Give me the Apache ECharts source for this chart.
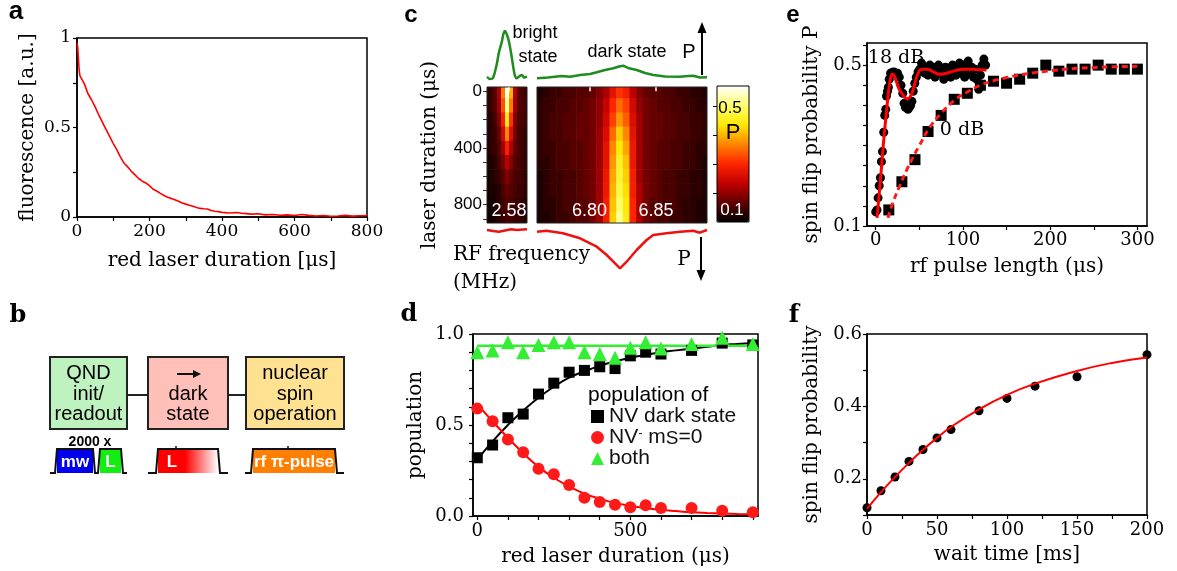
<!DOCTYPE html>
<html><head><meta charset="utf-8">
<script src="https://cdn.jsdelivr.net/npm/echarts@6/dist/echarts.min.js"></script>
<style>html,body{margin:0;padding:0;background:#fff}#c{width:1177px;height:571px}</style>
</head><body><div id="c"></div>
<script>
// ---------- panel a ----------
const aTime = [0,2,4,6,8,10,20,30,40,50,60,70,80,90,100,110,120,130,140,150,160,170,180,190,200,210,220,230,240,250,260,270,280,290,300,310,320,330,340,350,360,370,380,390,400,420,440,460,480,500,520,540,560,580,600,620,640,660,680,700,720,740,760,780,800];
const aFluor = [0.97,0.95,0.88,0.82,0.79,0.785,0.745,0.69,0.655,0.615,0.57,0.53,0.49,0.45,0.41,0.375,0.335,0.30,0.28,0.255,0.235,0.215,0.2,0.19,0.175,0.155,0.145,0.132,0.12,0.11,0.104,0.096,0.088,0.078,0.072,0.066,0.06,0.053,0.048,0.046,0.045,0.036,0.032,0.03,0.026,0.022,0.025,0.02,0.016,0.018,0.012,0.014,0.01,0.012,0.008,0.014,0.009,0.006,0.008,0.004,0.006,0.009,0.005,0.007,0.008];
const aXTicks = [0,100,200,300,400,500,600,700,800];
const aXLabels = [0,200,400,600,800];
const aYTicks = [0,0.25,0.5,0.75,1];
const aYLabels = [0,0.5,1];

// ---------- panel c ----------
const cTimes = [0,100,200,300,400,500,600,700,800,900];
const cTimeTicks = [0,100,200,300,400,500,600,700,800,900];
const cTimeLabels = [0,400,800];
const cBrightTicks = [2.58];
const cDarkTicks = [6.80,6.85];
const cFreqBright = [2.5745,2.5755,2.5765,2.5775,2.5785,2.5795,2.5805,2.5815,2.5825,2.5835,2.5845];
const cFreqDark = [6.7625,6.7675,6.7725,6.7775,6.7825,6.7875,6.7925,6.7975,6.8025,6.8075,6.8125,6.8175,6.8225,6.8275,6.8325,6.8375,6.8425,6.8475,6.8525,6.8575,6.8625,6.8675,6.8725,6.8775,6.8825,6.8875];
const cBright = [
 [0.13,0.14,0.16,0.22,0.36,0.56,0.40,0.22,0.16,0.15,0.14],
 [0.13,0.14,0.16,0.21,0.33,0.52,0.36,0.21,0.16,0.15,0.14],
 [0.13,0.13,0.15,0.19,0.29,0.45,0.31,0.19,0.15,0.15,0.14],
 [0.12,0.13,0.14,0.17,0.25,0.37,0.26,0.18,0.15,0.14,0.13],
 [0.12,0.13,0.14,0.16,0.21,0.29,0.22,0.17,0.15,0.14,0.13],
 [0.12,0.12,0.13,0.15,0.18,0.23,0.19,0.16,0.15,0.14,0.13],
 [0.11,0.12,0.13,0.14,0.16,0.19,0.17,0.15,0.15,0.14,0.13],
 [0.11,0.12,0.12,0.13,0.15,0.17,0.16,0.15,0.14,0.14,0.13],
 [0.11,0.11,0.12,0.13,0.14,0.16,0.15,0.14,0.14,0.13,0.12],
 [0.11,0.11,0.12,0.13,0.14,0.15,0.15,0.14,0.14,0.13,0.12]
];
const cDark = [
 [0.12,0.13,0.14,0.14,0.15,0.15,0.16,0.16,0.17,0.19,0.22,0.27,0.31,0.29,0.23,0.19,0.17,0.16,0.16,0.15,0.15,0.14,0.14,0.13,0.13,0.12],
 [0.13,0.14,0.14,0.15,0.15,0.16,0.16,0.17,0.18,0.20,0.24,0.30,0.35,0.32,0.25,0.20,0.18,0.17,0.16,0.16,0.15,0.15,0.14,0.14,0.13,0.13],
 [0.13,0.14,0.15,0.15,0.16,0.16,0.17,0.17,0.18,0.20,0.25,0.32,0.38,0.34,0.26,0.21,0.18,0.17,0.17,0.16,0.16,0.15,0.15,0.14,0.14,0.13],
 [0.13,0.14,0.15,0.15,0.16,0.16,0.17,0.17,0.18,0.21,0.26,0.35,0.42,0.37,0.27,0.21,0.18,0.17,0.17,0.16,0.16,0.15,0.15,0.14,0.14,0.13],
 [0.13,0.14,0.14,0.15,0.15,0.16,0.16,0.17,0.18,0.21,0.27,0.37,0.44,0.39,0.28,0.21,0.18,0.17,0.16,0.16,0.15,0.15,0.14,0.14,0.13,0.13],
 [0.13,0.13,0.14,0.15,0.15,0.16,0.16,0.17,0.18,0.21,0.27,0.38,0.46,0.41,0.28,0.21,0.18,0.17,0.16,0.16,0.15,0.15,0.14,0.14,0.13,0.12],
 [0.12,0.13,0.14,0.14,0.15,0.15,0.16,0.17,0.18,0.21,0.28,0.39,0.47,0.42,0.29,0.21,0.18,0.17,0.16,0.15,0.15,0.14,0.14,0.13,0.13,0.12],
 [0.12,0.13,0.14,0.14,0.15,0.15,0.16,0.17,0.18,0.21,0.28,0.40,0.48,0.43,0.29,0.22,0.18,0.17,0.16,0.15,0.15,0.14,0.14,0.13,0.13,0.12],
 [0.12,0.13,0.13,0.14,0.15,0.15,0.16,0.16,0.18,0.21,0.29,0.41,0.50,0.44,0.30,0.22,0.18,0.16,0.16,0.15,0.15,0.14,0.13,0.13,0.12,0.12],
 [0.12,0.12,0.13,0.14,0.14,0.15,0.16,0.16,0.18,0.21,0.29,0.42,0.52,0.45,0.30,0.22,0.18,0.16,0.15,0.15,0.14,0.14,0.13,0.13,0.12,0.12]
];
const cGreenBrightF = [2.5745,2.57525,2.576,2.5769,2.5775,2.5782,2.5786,2.5790,2.5795,2.5800,2.5806,2.5811,2.5815,2.5819,2.5825,2.5832,2.5838,2.5845];
const cGreenBrightP = [0.083,0.06,0.07,0.20,0.33,0.433,0.51,0.54,0.50,0.433,0.30,0.17,0.09,0.067,0.085,0.10,0.075,0.083];
const cGreenDarkF = [6.7605,6.7688,6.7791,6.7853,6.7929,6.8004,6.8054,6.8117,6.8179,6.8222,6.8254,6.8289,6.8355,6.8417,6.848,6.8568,6.868,6.8741,6.878,6.883,6.8883];
const cGreenDarkP = [0.067,0.075,0.09,0.083,0.10,0.11,0.127,0.15,0.167,0.185,0.193,0.17,0.15,0.12,0.10,0.085,0.083,0.09,0.093,0.075,0.077];
const cRedBrightF = [2.5745,2.576,2.5775,2.579,2.5805,2.582,2.5835,2.5845];
const cRedBrightP = [0.04,0.05,0.057,0.045,0.033,0.04,0.035,0.033];
const cRedDarkF = [6.7605,6.7676,6.78,6.7929,6.8054,6.8129,6.8179,6.8229,6.8279,6.8354,6.8429,6.8479,6.8579,6.868,6.878,6.8829,6.8883];
const cRedDarkP = [0.057,0.047,0.073,0.123,0.207,0.29,0.357,0.423,0.357,0.24,0.14,0.09,0.073,0.057,0.047,0.067,0.04];
const cBarTicks = [0.2,0.3,0.4,0.5];

// ---------- panel d ----------
const dTime = [0,50,100,150,200,250,300,350,400,450,500,550,600,700,800,900];
const dDark = [0.32,0.39,0.54,0.56,0.67,0.73,0.79,0.80,0.82,0.81,0.88,0.90,0.89,0.91,0.95,0.94];
const dMs0 = [0.59,0.52,0.42,0.35,0.26,0.23,0.17,0.10,0.077,0.062,0.048,0.059,0.044,0.044,0.029,0.02];
const dBoth = [0.90,0.91,0.955,0.90,0.94,0.955,0.955,0.90,0.89,0.87,0.925,0.955,0.92,0.945,0.98,0.945];
const dFitT = [0,50,100,150,200,250,300,350,400,450,500,550,600,650,700,750,800,850,900];
const dFitDark = [0.31,0.41,0.50,0.58,0.65,0.71,0.76,0.795,0.825,0.85,0.87,0.885,0.90,0.91,0.92,0.93,0.94,0.945,0.95];
const dFitMs0 = [0.615,0.52,0.43,0.345,0.27,0.21,0.163,0.123,0.095,0.072,0.056,0.044,0.034,0.027,0.021,0.017,0.014,0.011,0.009];
const dFitBothT = [0,900];
const dFitBoth = [0.935,0.935];
const dXTicks = [0,100,200,300,400,500,600,700,800,900];
const dXLabels = [0,500];
const dYTicks = [0,0.1,0.2,0.3,0.4,0.5,0.6,0.7,0.8,0.9,1];
const dYLabels = [0,0.5,1];

// ---------- panel e ----------
const eT18 = [0,1.5,2.7,4,5.4,6.5,7.7,9.2,10.3,11.5,12.3,13.5,14.5,15.5,17,19,21,23,25,27,29,31,32.5,34,35.5,37,38.5,40,41.5,43,44.8,46.5,48.5,50.5,52.5,54,56,58,60,62,64,66,68,70,72,74,76,78,80,82,84,86,88,90,92,94,96,98,100,102,104,106,108,110,112,114,116,118,120,122,124,126];
const eP18 = [0.135,0.14,0.17,0.2,0.22,0.26,0.285,0.333,0.375,0.39,0.423,0.435,0.445,0.465,0.48,0.482,0.483,0.478,0.48,0.47,0.45,0.43,0.405,0.395,0.398,0.39,0.395,0.40,0.41,0.435,0.455,0.47,0.483,0.49,0.505,0.495,0.48,0.49,0.475,0.50,0.48,0.495,0.47,0.485,0.50,0.48,0.49,0.465,0.495,0.48,0.49,0.47,0.50,0.485,0.475,0.495,0.505,0.48,0.50,0.47,0.49,0.51,0.48,0.495,0.47,0.49,0.465,0.44,0.475,0.50,0.515,0.50];
const eFit18T = [1.5,4,6.5,9,12.3,15,17,19,21,23.7,27,31.4,34,37,40,42.8,45.5,48.6,51,54,58,62,67,73.5,80,89,97,104,115,127];
const eFit18P = [0.12,0.18,0.243,0.31,0.384,0.44,0.467,0.477,0.474,0.459,0.44,0.425,0.418,0.417,0.423,0.438,0.46,0.48,0.488,0.49,0.49,0.488,0.482,0.477,0.479,0.485,0.489,0.49,0.489,0.488];
const eT0 = [15,30,45,60,75,90,105,120,135,150,165,180,195,210,225,240,255,270,285,300];
const eP0 = [0.14,0.21,0.265,0.335,0.375,0.415,0.43,0.45,0.46,0.455,0.465,0.48,0.50,0.485,0.49,0.49,0.50,0.49,0.49,0.49];
const eFit0T = [14,20,27,35,42.5,50,62,75,90,104,120,135,150,175,200,225,250,275,300];
const eFit0P = [0.12,0.16,0.197,0.237,0.27,0.3,0.345,0.38,0.412,0.432,0.45,0.461,0.469,0.479,0.486,0.491,0.494,0.496,0.497];
const eXTicks = [0,50,100,150,200,250,300];
const eXLabels = [0,100,200,300];
const eYTicks = [0.1,0.15,0.2,0.25,0.3,0.35,0.4,0.45,0.5,0.55];
const eYLabels = [0.1,0.5];

// ---------- panel f ----------
const fTime = [0,10,20,30,40,50,60,80,100,120,150,200];
const fP = [0.12,0.167,0.205,0.248,0.281,0.313,0.336,0.388,0.422,0.456,0.482,0.543];
const fFitT = [0,10,20,30,40,50,60,80,100,120,150,175,200];
const fFitP = [0.117,0.163,0.205,0.244,0.28,0.313,0.343,0.392,0.432,0.463,0.498,0.52,0.535];
const fXTicks = [0,25,50,75,100,125,150,175,200];
const fXLabels = [0,50,100,150,200];
const fYTicks = [0.1,0.2,0.3,0.4,0.5,0.6];
const fYLabels = [0.2,0.4,0.6];

// ---------- build ----------
const SERIF = 'DejaVu Serif', SANS = 'Liberation Sans';
const zip = (x, y) => x.map((v, i) => [v, y[i]]);
function cells(freqs, times, rows) {
  const out = [];
  rows.forEach((row, r) => row.forEach((v, c) => out.push([freqs[c], times[r], v])));
  return out;
}
function cellRenderer(freqs, times) {
  const hx = (freqs[1] - freqs[0]) / 2, hy = (times[1] - times[0]) / 2;
  return function (params, api) {
    const f = api.value(0), t = api.value(1);
    const p0 = api.coord([f - hx, t - hy]), p1 = api.coord([f + hx, t + hy]);
    const cs = params.coordSys;
    const r = echarts.graphic.clipRectByRect(
      {x: Math.min(p0[0], p1[0]), y: Math.min(p0[1], p1[1]), width: Math.abs(p1[0] - p0[0]) + 0.6, height: Math.abs(p1[1] - p0[1]) + 0.6},
      {x: cs.x, y: cs.y, width: cs.width, height: cs.height});
    return r && {type: 'rect', shape: r, style: {fill: api.visual('color')}};
  };
}
function boxAxis(gi, o) {
  return {
    type: 'value', gridIndex: gi, min: o.min, max: o.max, position: o.pos,
    axisLine: {show: true, onZero: false, lineStyle: {color: '#000', width: 1.5}},
    axisTick: {show: true, length: 4, lineStyle: {color: '#000', width: 1.2}, customValues: o.ticks},
    axisLabel: {customValues: o.labels, margin: o.margin, fontFamily: SERIF, fontSize: o.fs || 18, color: '#000', formatter: o.fmt},
    splitLine: {show: false},
    name: o.name, nameLocation: 'middle', nameGap: o.gap,
    nameTextStyle: {fontFamily: SERIF, fontSize: 20, color: '#000'}
  };
}
const hidden = (gi, min, max, inverse) => ({type: 'value', gridIndex: gi, min, max, inverse: !!inverse, show: false});
const boxGrid = (l, t, w, h) => ({left: l, top: t, width: w, height: h, show: true, borderColor: '#000', borderWidth: 1.5});

const hot = ['#000000','#610000','#c20000','#ff2500','#ff8500','#ffe700','#ffff6d','#ffffff'];

const grids = [
  boxGrid(77, 38, 290, 179),
  {left: 487, top: 87, width: 40, height: 136, show: true, borderColor: '#222', borderWidth: 1, z: 3},
  {left: 537, top: 87, width: 170, height: 136, show: true, borderColor: '#222', borderWidth: 1, z: 3},
  {left: 487, top: 25, width: 40, height: 60},
  {left: 537, top: 25, width: 170, height: 60},
  {left: 487, top: 226, width: 40, height: 50},
  {left: 537, top: 226, width: 170, height: 50},
  {left: 717, top: 86, width: 32, height: 136, show: true, borderColor: '#000', borderWidth: 1, z: 10},
  boxGrid(473, 334, 285, 182),
  boxGrid(867, 43, 280, 183),
  boxGrid(867, 334, 280, 181)
];
const heatX = (gi, min, max, ticks) => ({
  type: 'value', gridIndex: gi, min, max, position: 'bottom', z: 6,
  axisLine: {show: false},
  axisTick: {show: true, inside: true, length: 4, customValues: ticks, lineStyle: {color: '#fff', width: 1.5}},
  axisLabel: {inside: true, customValues: ticks, formatter: v => v.toFixed(2), color: '#fff', fontFamily: SANS, fontSize: 18, margin: 3},
  splitLine: {show: false}
});
const xAxes = [
  boxAxis(0, {min: 0, max: 800, pos: 'bottom', ticks: aXTicks, labels: aXLabels, margin: 6, fs: 17, name: 'red laser duration [μs]', gap: 34}),
  heatX(1, 2.5745, 2.5845, cBrightTicks),
  heatX(2, 6.7605, 6.8883, cDarkTicks),
  hidden(3, 2.5745, 2.5845), hidden(4, 6.7605, 6.8883),
  hidden(5, 2.5745, 2.5845), hidden(6, 6.7605, 6.8883),
  hidden(7, 0, 1),
  boxAxis(8, {min: -14, max: 917, pos: 'bottom', ticks: dXTicks, labels: dXLabels, margin: 6, name: 'red laser duration (μs)', gap: 31}),
  boxAxis(9, {min: -10, max: 311, pos: 'bottom', ticks: eXTicks, labels: eXLabels, margin: 5, name: 'rf pulse length (μs)', gap: 31}),
  boxAxis(10, {min: 0, max: 200, pos: 'bottom', ticks: fXTicks, labels: fXLabels, margin: 6, name: 'wait time [ms]', gap: 30})
];
const yAxes = [
  boxAxis(0, {min: 0, max: 1, pos: 'left', ticks: aYTicks, labels: aYLabels, margin: 6, fs: 17, name: 'fluorescence [a.u.]', gap: 39}),
  {type: 'value', gridIndex: 1, min: -30, max: 930, inverse: true, position: 'left',
   axisLine: {show: false},
   axisTick: {show: true, length: 4, customValues: cTimeTicks, lineStyle: {color: '#333'}},
   axisLabel: {customValues: cTimeLabels, fontFamily: SANS, fontSize: 17, color: '#000', margin: 5},
   splitLine: {show: false},
   name: 'laser duration (μs)', nameLocation: 'middle', nameGap: 47,
   nameTextStyle: {fontFamily: SERIF, fontSize: 20, color: '#000'}},
  hidden(2, -30, 930, true),
  hidden(3, 0, 0.6), hidden(4, 0, 0.6),
  hidden(5, 0, 0.5, true), hidden(6, 0, 0.5, true),
  {type: 'value', gridIndex: 7, min: 0.1, max: 0.57, position: 'right', z: 12,
   axisLine: {show: false}, axisLabel: {show: false}, splitLine: {show: false},
   axisTick: {show: true, inside: true, length: 4, customValues: cBarTicks, lineStyle: {color: '#000'}}},
  boxAxis(8, {min: 0, max: 1, pos: 'left', ticks: dYTicks, labels: dYLabels, margin: 9, fmt: v => v.toFixed(1), name: 'population', gap: 47}),
  boxAxis(9, {min: 0.1, max: 0.555, pos: 'left', ticks: eYTicks, labels: eYLabels, margin: 5, name: 'spin flip probability P', gap: 45}),
  boxAxis(10, {min: 0.1, max: 0.6, pos: 'left', ticks: fYTicks, labels: fYLabels, margin: 5, name: 'spin flip probability', gap: 45})
];

const line = (gi, data, color, width, extra) => Object.assign({
  type: 'line', xAxisIndex: gi, yAxisIndex: gi, data, showSymbol: false, symbol: 'none',
  lineStyle: {color, width}, silent: true, z: 3
}, extra || {});
const scat = (gi, name, data, symbol, size, color) => ({
  type: 'scatter', name, xAxisIndex: gi, yAxisIndex: gi, data, symbol, symbolSize: size,
  itemStyle: {color, opacity: 1}, silent: true, z: 4
});

const series = [
  line(0, zip(aTime, aFluor), '#ff0000', 1.6),
  {type: 'custom', xAxisIndex: 1, yAxisIndex: 1, data: cells(cFreqBright, cTimes, cBright), renderItem: cellRenderer(cFreqBright, cTimes), encode: {x: 0, y: 1}, silent: true, z: 1},
  {type: 'custom', xAxisIndex: 2, yAxisIndex: 2, data: cells(cFreqDark, cTimes, cDark), renderItem: cellRenderer(cFreqDark, cTimes), encode: {x: 0, y: 1}, silent: true, z: 1},
  line(3, zip(cGreenBrightF, cGreenBrightP), '#1e8c1e', 2.5, {smooth: 0.3}),
  line(4, zip(cGreenDarkF, cGreenDarkP), '#1e8c1e', 2.5),
  line(5, zip(cRedBrightF, cRedBrightP), '#ee1111', 2.5),
  line(6, zip(cRedDarkF, cRedDarkP), '#ee1111', 2.5),
  line(8, zip(dFitT, dFitDark), '#000', 2, {smooth: true}),
  line(8, zip(dFitT, dFitMs0), '#ff0000', 2, {smooth: true}),
  line(8, zip(dFitBothT, dFitBoth), '#33ee33', 2.5),
  scat(8, 'NV dark state', zip(dTime, dDark), 'rect', 11, '#000'),
  scat(8, 'NV⁻ mS=0', zip(dTime, dMs0), 'circle', 12, '#ff1a1a'),
  scat(8, 'both', zip(dTime, dBoth), 'triangle', 14, '#33ee33'),
  scat(9, '18 dB', zip(eT18, eP18), 'circle', 9, '#000'),
  scat(9, '0 dB', zip(eT0, eP0), 'rect', 11, '#000'),
  line(9, zip(eFit18T, eFit18P), '#ff0000', 3, {smooth: 0.4, z: 5}),
  line(9, zip(eFit0T, eFit0P), '#ff1a1a', 3, {smooth: true, z: 5, lineStyle: {color: '#ff1a1a', width: 3, type: [6, 4]}}),
  scat(10, 'f', zip(fTime, fP), 'circle', 9, '#000'),
  line(10, zip(fFitT, fFitP), '#ff0000', 2, {smooth: true, z: 5})
];

const T = (text, x, y, font, o) => {
  o = o || {};
  return {type: 'text', x, y, rotation: o.rot || 0, silent: true, z: 100,
    style: {text, font, fill: o.fill || '#000', align: o.align || 'center', verticalAlign: o.va || 'middle', lineHeight: o.lh}};
};
const R = (x, y, w, h, fill, stroke, lw) => ({type: 'rect', silent: true, z: 90, shape: {x, y, width: w, height: h}, style: {fill, stroke: stroke || null, lineWidth: lw || 0}});
const L = (pts, stroke, lw) => ({type: 'polyline', silent: true, z: 95, shape: {points: pts}, style: {stroke, lineWidth: lw, fill: null}});
const P = (pts, fill) => ({type: 'polygon', silent: true, z: 95, shape: {points: pts}, style: {fill}});

const redGrad = new echarts.graphic.LinearGradient(0, 0, 1, 0, [
  {offset: 0, color: '#ff0000'}, {offset: 0.45, color: '#ff0000'}, {offset: 1, color: '#ffffff'}]);
const F20 = '20px ' + SANS;
const graphics = [
  // panel letters
  T('a', 16, 12, 'bold 26px ' + SANS),
  T('b', 18, 316, 'bold 24px ' + SERIF),
  T('c', 411, 15, 'bold 24px ' + SANS),
  T('d', 409, 315, 'bold 24px ' + SERIF),
  T('e', 793, 15, 'bold 24px ' + SANS),
  T('f', 794, 316, 'bold 24px ' + SERIF),
  // panel b boxes
  R(50, 357, 77, 72, '#bef2be', '#222', 2),
  R(148, 357, 80, 72, '#ffc0ba', '#222', 2),
  R(246, 357, 98, 72, '#ffe291', '#222', 2),
  L([[127, 395], [148, 395]], '#222', 2),
  L([[228, 395], [246, 395]], '#222', 2),
  T('QND', 88.5, 373, F20), T('init/', 88.5, 394, F20), T('readout', 88.5, 414, F20),
  L([[177, 374], [195, 374]], '#111', 2), P([[201, 374], [193, 370], [193, 378]], '#111'),
  T('dark', 188, 394, F20), T('state', 188, 414, F20),
  T('nuclear', 295, 373, F20), T('spin', 295, 394, F20), T('operation', 295, 414, F20),
  // pulses
  T('2000 x', 90, 442, 'bold 14px ' + SANS),
  R(57, 449, 36, 24, '#0000ee'), R(100, 449, 21, 24, '#11ee11'),
  R(158, 449, 60, 24, redGrad), R(253, 449, 82, 24, '#ff8000'),
  L([[50, 473], [55, 473], [57, 449], [93, 449], [95, 473], [98, 473], [100, 449], [121, 449], [123, 473], [127, 473]], '#111', 2),
  L([[148, 473], [156, 473], [158, 449], [218, 449], [220, 473], [228, 473]], '#111', 2),
  L([[245, 473], [251, 473], [253, 449], [335, 449], [337, 473], [344, 473]], '#111', 2),
  L([[176, 446], [176, 450]], '#111', 1.5), L([[288, 446], [288, 450]], '#111', 1.5),
  T('mw', 75, 462, 'bold 17px ' + SANS, {fill: '#fff'}),
  T('L', 110.5, 462, 'bold 17px ' + SANS, {fill: '#fff'}),
  T('L', 172, 462, 'bold 17px ' + SANS, {fill: '#fff'}),
  T('rf π-pulse', 294, 462, 'bold 17px ' + SANS, {fill: '#fff'}),
  // panel c texts
  T('bright', 535, 33, '18px ' + SANS), T('state', 538, 57, '18px ' + SANS),
  T('dark state', 627, 52, '18px ' + SANS),
  T('P', 689, 52, '20px ' + SANS),
  L([[702, 75], [702, 31]], '#000', 2), P([[702, 22], [697.5, 33], [706.5, 33]], '#000'),
  T('P', 684, 260, '20px ' + SERIF),
  L([[701, 237], [701, 271]], '#000', 2), P([[701, 281], [696.5, 270], [705.5, 270]], '#000'),
  T('RF frequency\n(MHz)', 453, 241, '20px ' + SERIF, {align: 'left', va: 'top', lh: 28}),
  T('0.5', 730, 108, '17px ' + SANS),
  T('P', 733, 133, '22px ' + SANS),
  T('0.1', 732, 210, '17px ' + SANS, {fill: '#fff'}),
  // panel d legend title
  T('population of', 588, 395, '21px ' + SANS, {align: 'left'}),
  // panel e annotations
  T('18 dB', 896, 58, '19px ' + SERIF),
  T('0 dB', 962, 130, '19px ' + SERIF)
];

const option = {
  animation: false,
  backgroundColor: '#fff',
  grid: grids, xAxis: xAxes, yAxis: yAxes, series,
  visualMap: {
    type: 'continuous', min: 0.1, max: 0.57, dimension: 2, seriesIndex: [1, 2],
    inRange: {color: hot}, left: 717, top: 86, itemWidth: 32, itemHeight: 136,
    calculable: false, hoverLink: false, padding: 0, orient: 'vertical', text: null, z: 4
  },
  legend: {
    data: ['NV dark state', 'NV⁻ mS=0', 'both'], left: 591, top: 406, orient: 'vertical',
    itemWidth: 13, itemHeight: 13, itemGap: 0, padding: 0, selectedMode: false,
    textStyle: {fontFamily: SANS, fontSize: 21, color: '#111', lineHeight: 21,
      rich: {sup: {fontSize: 13, verticalAlign: 'top', fontFamily: SANS, color: '#111'},
             sub: {fontSize: 19, verticalAlign: 'bottom', fontFamily: SANS, color: '#111', padding: [4, 0, 0, 0]}}},
    formatter: n => n === 'NV⁻ mS=0' ? 'NV{sup|-} m{sub|S}=0' : n
  },
  graphic: {elements: graphics}
};
const chart = echarts.init(document.getElementById('c'));
chart.setOption(option);
</script></body></html>
